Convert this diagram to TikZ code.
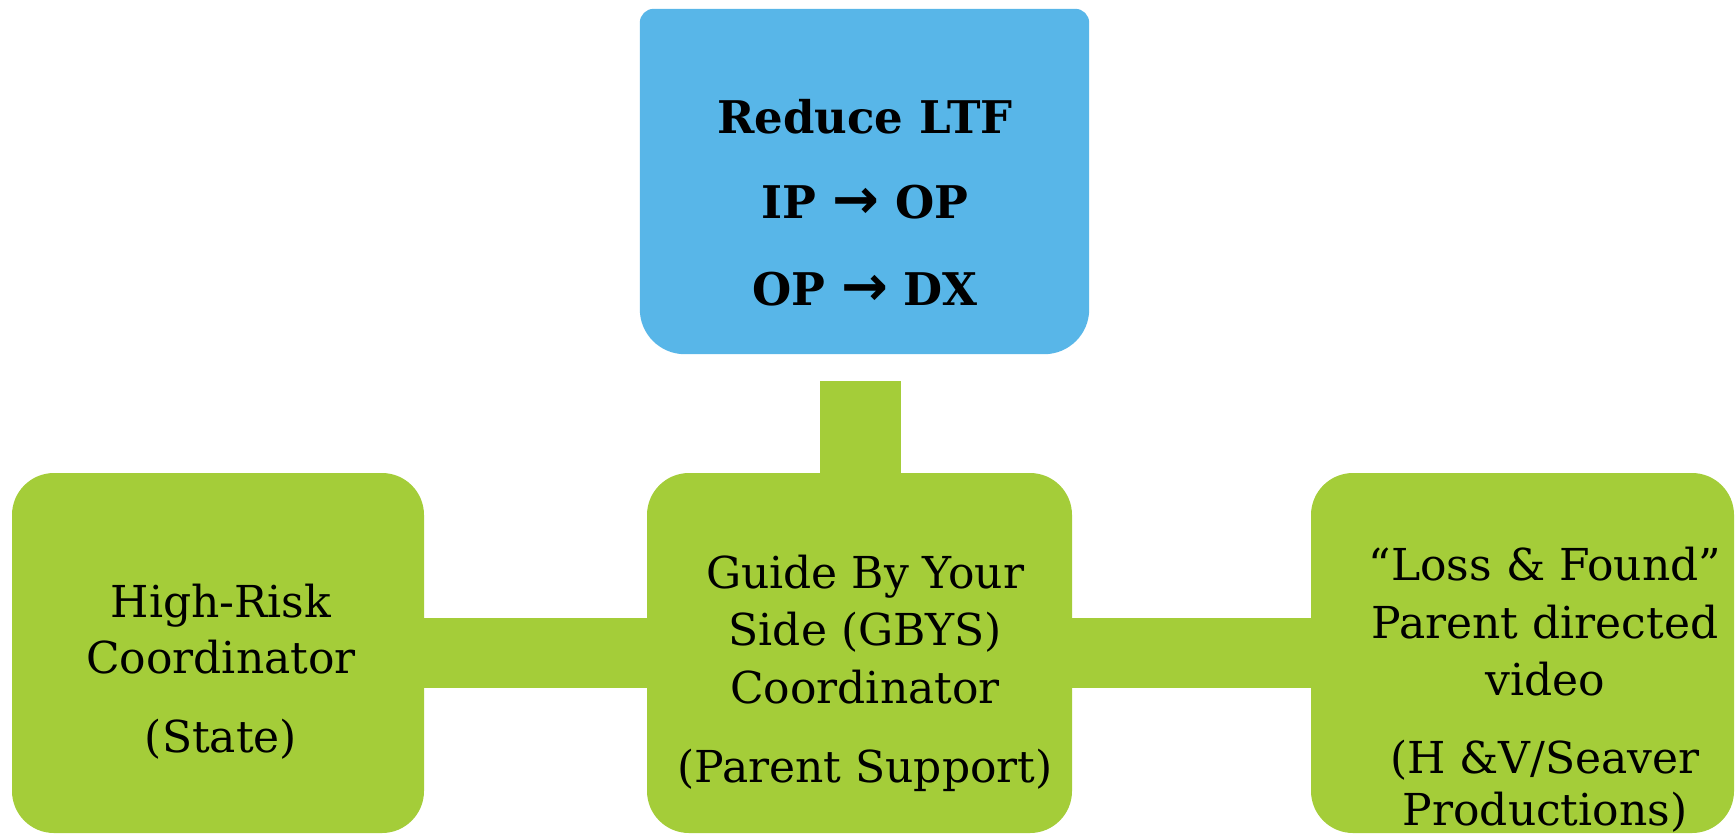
\documentclass[tikz,border=0pt]{standalone}
\usepackage{fontspec}
\setmainfont{DejaVu Serif}
\newfontfamily\arrowfont{DejaVu Sans}
\newcommand{\bigarr}{{\arrowfont\bfseries\fontsize{56}{56}\selectfont →}}
\definecolor{cblue}{RGB}{88,182,232}
\definecolor{cgreen}{RGB}{164,205,57}
\begin{document}
\begin{tikzpicture}[x=1pt,y=-1pt,
  gbox/.style={fill=cgreen, rounded corners=42pt, inner sep=0pt, draw=none},
  bbox/.style={inner sep=0pt, draw=none},
  link/.style={fill=cgreen},
  txt/.style={anchor=base, inner sep=0pt, font=\fontsize{44}{53}\selectfont},
  btxt/.style={anchor=base, inner sep=0pt, font=\bfseries\fontsize{45}{54}\selectfont}]
\useasboundingbox (0,0) rectangle (1736,833);
% boxes
\node[bbox, minimum width=449pt, minimum height=345pt] (goal) at (864.5,181.5) {};
\fill[cblue] (goal.west) [rounded corners=14pt] -- (goal.north west) -- (goal.north east) -- (goal.east)
  [rounded corners=45pt] -- (goal.south east) -- (goal.south west) -- cycle;
\node[gbox, minimum width=412pt, minimum height=360pt] (left) at (218,653) {};
\node[gbox, minimum width=425pt, minimum height=360pt] (mid) at (859.5,653) {};
\node[gbox, minimum width=423pt, minimum height=360pt] (right) at (1522.5,653) {};
% connectors
\coordinate (vtop) at (860,381);
\fill[link] ([xshift=-40pt]vtop) rectangle ([xshift=41pt]mid.north);
\fill[link] ([yshift=35pt]left.east) rectangle ([yshift=-35pt]mid.west);
\fill[link] ([yshift=35pt]mid.east) rectangle ([yshift=-35pt]right.west);
% texts
\node[btxt] (g1) at (865,133) {Reduce LTF};
\node[btxt] (g2) at (865,218) {IP \bigarr{} OP};
\node[btxt] (g3) at (865,305) {OP \bigarr{} DX};
\node[txt] (l1) at (221,617) {High-Risk};
\node[txt] (l2) at (221,673) {Coordinator};
\node[txt] (l3) at (221,752) {(State)};
\node[txt] (m1) at (865,588) {Guide By Your};
\node[txt] (m2) at (865,645) {Side (GBYS)};
\node[txt] (m3) at (865,703) {Coordinator};
\node[txt] (m4) at (865,782) {(Parent Support)};
\node[txt] (r1) at (1545,580) {“Loss \& Found”};
\node[txt] (r2) at (1545,638) {Parent directed};
\node[txt] (r3) at (1545,695) {video};
\node[txt] (r4) at (1545,773) {(H \&V/Seaver};
\node[txt] (r5) at (1545,825) {Productions)};
\end{tikzpicture}
\end{document}
